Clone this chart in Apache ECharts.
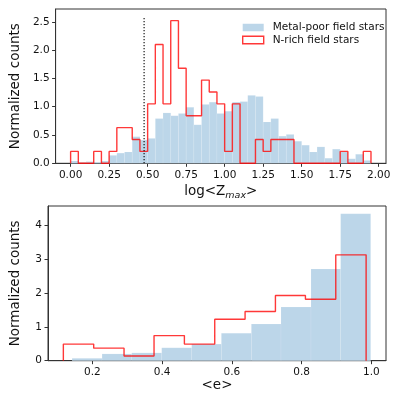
<!DOCTYPE html>
<html>
<head>
<meta charset="utf-8">
<script src="https://cdn.jsdelivr.net/npm/echarts@6/dist/echarts.min.js"></script>
<style>
html,body{margin:0;padding:0;background:#fff;}
#chart{width:399px;height:399px;}
</style>
</head>
<body>
<div id="chart"></div>
<script>
// ---------- data ----------
const seriesNames = ['Metal-poor field stars', 'N-rich field stars'];

// top panel: log<Zmax>
const topEdges = [0.00,0.05,0.10,0.15,0.20,0.25,0.30,0.35,0.40,0.45,0.50,0.55,0.60,0.65,0.70,0.75,0.80,0.85,0.90,0.95,
                  1.00,1.05,1.10,1.15,1.20,1.25,1.30,1.35,1.40,1.45,1.50,1.55,1.60,1.65,1.70,1.75,1.80,1.85,1.90,1.95];
const topBlue = [0.04,0.01,0.03,0.02,0.04,0.14,0.18,0.20,0.47,0.41,0.44,0.79,0.89,0.84,0.88,0.99,0.68,1.04,1.08,0.88,
                 0.92,1.08,1.09,1.20,1.18,0.73,0.79,0.48,0.51,0.39,0.32,0.20,0.29,0.09,0.25,0.20,0.08,0.16,0.05];
const topRed  = [0.21,0,0,0.21,0,0.21,0.63,0.63,0.42,0.21,1.05,2.10,1.05,2.52,1.68,0.84,0.84,1.47,1.26,1.05,
                 0.21,1.05,0,0,0.42,0.21,0.42,0.42,0.42,0,0,0,0,0,0,0.21,0,0,0.21];
const vLineX = 0.477;
const vLineTop = 2.6;
const topXTicks = [0.00,0.25,0.50,0.75,1.00,1.25,1.50,1.75,2.00];
const topYTicks = [0.0,0.5,1.0,1.5,2.0,2.5];

// bottom panel: <e>
const botBlueEdges = [0.142,0.228,0.313,0.399,0.485,0.570,0.656,0.741,0.827,0.912,0.998];
const botBlue      = [0.07,0.20,0.23,0.38,0.49,0.81,1.08,1.58,2.70,4.33];
const botRedEdges  = [0.117,0.204,0.291,0.377,0.464,0.551,0.638,0.725,0.811,0.898,0.985];
const botRed       = [0.49,0.37,0.14,0.74,0.49,1.22,1.45,1.92,1.81,3.12];
const botXTicks = [0.2,0.4,0.6,0.8,1.0];
const botYTicks = [0,1,2,3,4];

// ---------- helpers ----------
const BLUE = 'rgb(188,214,233)';
const RED = 'rgba(255,0,0,0.78)';
const FONT = 'DejaVu Sans';

function barData(edges, vals){
  return vals.map((v,i)=>[edges[i], edges[i+1], v]);
}
function stepData(edges, vals){
  const pts = [[edges[0],0]];
  vals.forEach((v,i)=>{ pts.push([edges[i],v]); pts.push([edges[i+1],v]); });
  pts.push([edges[edges.length-1],0]);
  return pts;
}
function renderBar(params, api){
  const p0 = api.coord([api.value(0), api.value(2)]);
  const p1 = api.coord([api.value(1), 0]);
  return {type:'rect', shape:{x:p0[0], y:p0[1], width:p1[0]-p0[0], height:p1[1]-p0[1]},
          style:{fill:BLUE, stroke:'rgba(255,255,255,0.2)', lineWidth:0.5}};
}
function xAxisCfg(idx, min, max, ticks, fmt, name, nameRich){
  return {
    type:'value', gridIndex:idx, min:min, max:max,
    axisLine:{show:true, onZero:false, lineStyle:{color:'#333', width:1}},
    axisTick:{show:true, inside:false, length:3.5, customValues:ticks, lineStyle:{color:'#333'}},
    axisLabel:{customValues:ticks, formatter:fmt, fontFamily:FONT, fontSize:10.5, color:'#111', margin:6},
    splitLine:{show:false},
    name:name, nameLocation:'middle', nameGap:nameRich?20:18,
    nameTextStyle:{fontFamily:FONT, fontSize:13.5, color:'#111', rich:nameRich||{}}
  };
}
function yAxisCfg(idx, min, max, ticks, fmt){
  return {
    type:'value', gridIndex:idx, min:min, max:max,
    axisLine:{show:true, onZero:false, lineStyle:{color:'#333', width:1}},
    axisTick:{show:true, inside:false, length:3.5, customValues:ticks, lineStyle:{color:'#333'}},
    axisLabel:{customValues:ticks, formatter:fmt, fontFamily:FONT, fontSize:10.5, color:'#111', margin:6},
    splitLine:{show:false},
    name:'Normalized counts', nameLocation:'middle', nameGap:26,
    nameTextStyle:{fontFamily:FONT, fontSize:13.5, color:'#111'}
  };
}

const chart = echarts.init(document.getElementById('chart'), null, {renderer:'canvas'});
chart.setOption({
  animation:false,
  backgroundColor:'#fff',
  grid:[
    {left:45, top:9, width:341, height:154.3, show:true, borderColor:'#333', borderWidth:1},
    {left:45, top:206, width:341, height:154.7, show:true, borderColor:'#333', borderWidth:1}
  ],
  legend:{
    left:237, top:17, orient:'vertical', itemWidth:21, itemHeight:7.5, itemGap:1.5,
    textStyle:{fontFamily:FONT, fontSize:10.5, color:'#111', padding:[0,0,0,4]},
    data:[
      {name:seriesNames[0], icon:'rect', itemStyle:{color:BLUE, borderWidth:0}},
      {name:seriesNames[1], icon:'rect', itemStyle:{color:'rgba(255,255,255,0)', borderColor:RED, borderWidth:1.4}}
    ],
    selectedMode:false
  },
  xAxis:[
    xAxisCfg(0, -0.0975, 2.0475, topXTicks, v=>v.toFixed(2), 'log<Z{sub|max}>',
      {sub:{fontFamily:FONT, fontSize:9.5, fontStyle:'italic', color:'#111', padding:[7,0,0,0]}}),
    xAxisCfg(1, 0.073, 1.042, botXTicks, v=>v.toFixed(1), '<e>', null)
  ],
  yAxis:[
    yAxisCfg(0, 0, 2.726, topYTicks, v=>v.toFixed(1)),
    yAxisCfg(1, 0, 4.56, botYTicks, v=>String(Math.round(v)))
  ],
  series:[
    {name:seriesNames[0], type:'custom', xAxisIndex:0, yAxisIndex:0, renderItem:renderBar,
     encode:{x:[0,1], y:2}, data:barData(topEdges, topBlue), z:1},
    {name:seriesNames[1], type:'line', xAxisIndex:0, yAxisIndex:0, showSymbol:false, symbol:'none',
     lineStyle:{color:RED, width:1.4}, itemStyle:{color:RED}, data:stepData(topEdges, topRed), z:3},
    {name:'vline', type:'line', xAxisIndex:0, yAxisIndex:0, showSymbol:false, symbol:'none',
     lineStyle:{color:'#000', width:1.1, type:[1.2,1.8]}, data:[[vLineX,0],[vLineX,vLineTop]], z:4},
    {name:seriesNames[0], type:'custom', xAxisIndex:1, yAxisIndex:1, renderItem:renderBar,
     encode:{x:[0,1], y:2}, data:barData(botBlueEdges, botBlue), z:1},
    {name:seriesNames[1], type:'line', xAxisIndex:1, yAxisIndex:1, showSymbol:false, symbol:'none',
     lineStyle:{color:RED, width:1.4}, itemStyle:{color:RED}, data:stepData(botRedEdges, botRed), z:3}
  ]
});
</script>
</body>
</html>
